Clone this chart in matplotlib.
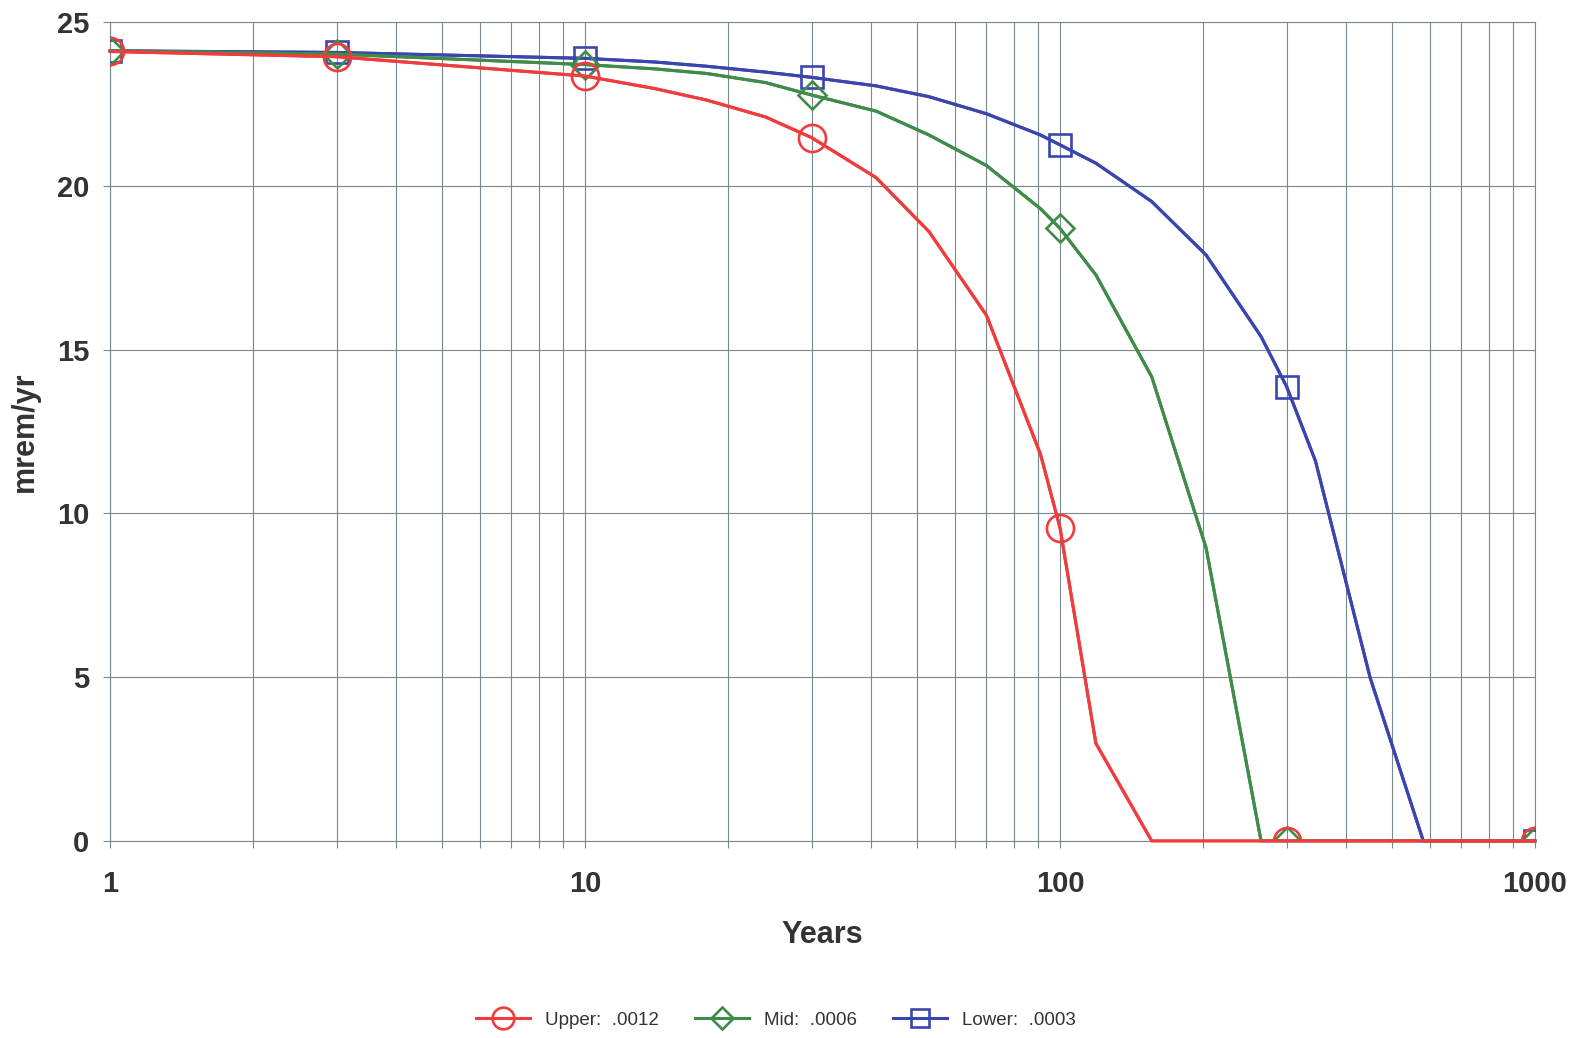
import matplotlib
matplotlib.use("Agg")
from matplotlib import pyplot as plt
from matplotlib.ticker import LogLocator, NullFormatter, MultipleLocator

plt.rcParams['font.family'] = ['Liberation Sans', 'DejaVu Sans']

# time points (years) and the years that carry a marker
years = [1, 3, 10, 14, 18, 24, 30, 41, 53, 70, 91, 100, 119, 156, 203, 265, 300, 345, 450, 582, 1000]
marked_years = [1, 3, 10, 30, 100, 300, 1000]

# dose, mrem/yr
upper = [24.10, 23.94, 23.35, 22.97, 22.62, 22.10, 21.47, 20.25, 18.60, 16.05, 11.80, 9.56,
         2.98, 0, 0, 0, 0, 0, 0, 0, 0]
mid = [24.12, 24.02, 23.70, 23.57, 23.43, 23.15, 22.77, 22.28, 21.55, 20.62, 19.30, 18.70,
       17.28, 14.17, 8.95, 0, 0, 0, 0, 0, 0]
lower = [24.12, 24.07, 23.89, 23.78, 23.65, 23.47, 23.31, 23.05, 22.72, 22.20, 21.55, 21.25,
         20.69, 19.52, 17.89, 15.40, 13.87, 11.60, 4.97, 0, 0]

names = ["Upper:  .0012", "Mid:  .0006", "Lower:  .0003"]

grid_c = '#7a878c'
text_c = '#333333'

fig = plt.figure(figsize=(15.77, 10.38), dpi=100)
ax = fig.add_axes([110 / 1577, 1 - 841 / 1038, 1425 / 1577, 819 / 1038])

idx = [years.index(y) for y in marked_years]
series = [
    (upper, '#f03c3c', 'o', 19.5, names[0], 5),
    (mid, '#3f8c48', 'D', 14.5, names[1], 4),
    (lower, '#3a46ae', 's', 15.5, names[2], 3),
]
for vals, color, marker, ms, name, z in series:
    # line itself not clipped so the part lying on zero keeps its full width
    ax.plot(years, vals, color=color, lw=2.2, clip_on=False, zorder=z)
    ax.plot(years, vals, color=color, lw=2.2, marker=marker, ms=ms, mfc='none',
            mec=color, mew=1.9, markevery=idx, label=name, zorder=z)

ax.set_xscale('log')
ax.set_xlim(1, 1000)
ax.set_ylim(0, 25)
ax.set_xticks([1, 10, 100, 1000])
ax.set_xticklabels(['1', '10', '100', '1000'])
ax.xaxis.set_minor_locator(LogLocator(base=10, subs=range(2, 10)))
ax.xaxis.set_minor_formatter(NullFormatter())
ax.yaxis.set_major_locator(MultipleLocator(5))

ax.set_axisbelow(True)
ax.grid(which='both', axis='x', color=grid_c, lw=0.8)
ax.grid(which='major', axis='y', color=grid_c, lw=0.8)
for s in ax.spines.values():
    s.set_color(grid_c)
    s.set_linewidth(0.8)

ax.tick_params(which='both', direction='out', length=5, width=0.8, color=grid_c)
ax.tick_params(axis='x', pad=16, labelsize=21, labelcolor=text_c)
ax.tick_params(axis='y', pad=10, labelsize=21, labelcolor=text_c)
for t in ax.get_xticklabels() + ax.get_yticklabels():
    t.set_fontweight('bold')

ax.set_xlabel('Years', fontsize=22, fontweight='bold', color=text_c, va='top')
ax.xaxis.set_label_coords(0.5, -0.097)
ax.set_ylabel('mrem/yr', fontsize=22, fontweight='bold', color=text_c)
ax.yaxis.set_label_coords(-0.049, 0.5)

leg = fig.legend(loc='center', bbox_to_anchor=(0.492, 0.017), ncol=3, frameon=False,
                 fontsize=13.5, handlelength=2.9, handletextpad=0.8, columnspacing=1.9,
                 markerscale=0.8)
for t in leg.get_texts():
    t.set_color(text_c)

plt.savefig('out.png', dpi=100)
